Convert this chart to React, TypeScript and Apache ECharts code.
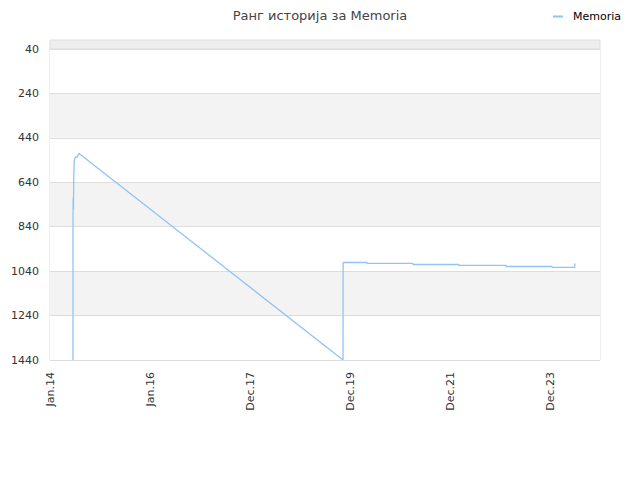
import React, { useEffect, useRef } from "react";
import * as echarts from "echarts";

const title = "Ранг историја за Memoria";
const seriesName = "Memoria";
const startDate = "2014-01-01";
const dates = [
  "2014-06-18", "2014-06-18", "2014-06-19", "2014-06-19", "2014-06-20", "2014-06-21",
  "2014-06-24", "2014-06-27", "2014-07-06", "2014-07-17", "2014-08-01",
  "2019-11-10", "2019-11-11", "2020-05-03", "2020-05-04", "2021-04-03", "2021-04-04",
  "2022-03-05", "2022-03-06", "2023-02-12", "2023-02-13", "2024-01-13", "2024-01-14",
  "2024-06-28", "2024-06-29",
];
const ranks = [
  1440, 792, 742, 724, 706, 760,
  607, 540, 526, 528, 510,
  1440, 1001, 1001, 1005, 1005, 1010,
  1010, 1014, 1014, 1019, 1019, 1023,
  1023, 1006,
];
const yTicks = [40, 240, 440, 640, 840, 1040, 1240, 1440];
const monthNames = ["Jan", "Feb", "Mar", "Apr", "May", "Jun", "Jul", "Aug", "Sep", "Oct", "Nov", "Dec"];

const DAY = 86400000;
const t0 = Date.parse(startDate + "T00:00:00Z");
const toDays = (s: string) => Math.round((Date.parse(s + "T00:00:00Z") - t0) / DAY);

export default function App() {
  const ref = useRef<HTMLDivElement>(null);
  useEffect(() => {
    if (!ref.current) return;
    const chart = echarts.init(ref.current, undefined, { renderer: "svg" });
    const data = dates.map((d, i) => [toDays(d), ranks[i]]);
    chart.setOption({
      animation: false,
      backgroundColor: "#fff",
      title: {
        text: title,
        left: "center",
        top: 4,
        textStyle: { fontFamily: "DejaVu Sans", fontSize: 13, fontWeight: "normal", color: "#444" },
      },
      legend: {
        right: 14,
        top: 6,
        icon: "rect",
        itemWidth: 10,
        itemHeight: 2,
        itemGap: 10,
        textStyle: { fontFamily: "DejaVu Sans", fontSize: 11, color: "#000", padding: [0, 0, 0, 5] },
        data: [seriesName],
      },
      grid: {
        left: 50,
        right: 40,
        top: 49,
        bottom: 120,
        show: true,
        borderColor: "#ddd",
        borderWidth: 1,
        backgroundColor: "transparent",
        containLabel: false,
      },
      graphic: [
        {
          type: "rect",
          shape: { x: 50, y: 40, width: 550, height: 9 },
          style: { fill: "#eeeeee", stroke: "#ddd", lineWidth: 1 },
          silent: true,
        },
      ],
      xAxis: {
        type: "value",
        min: 0,
        max: 4015,
        interval: 730,
        axisLine: { show: false },
        axisTick: { show: false },
        splitLine: { show: false },
        axisLabel: {
          rotate: 90,
          margin: 12,
          showMaxLabel: false,
          fontFamily: "DejaVu Sans",
          fontSize: 11,
          color: "#333",
          formatter: (v: number) => {
            const d = new Date(t0 + v * DAY);
            return monthNames[d.getUTCMonth()] + "." + String(d.getUTCFullYear()).slice(2);
          },
        },
      },
      yAxis: {
        type: "value",
        inverse: true,
        min: yTicks[0],
        max: yTicks[yTicks.length - 1],
        interval: yTicks[1] - yTicks[0],
        axisLine: { show: false },
        axisTick: { show: false },
        axisLabel: {
          margin: 11,
          fontFamily: "DejaVu Sans",
          fontSize: 11,
          color: "#333",
          formatter: (v: number) => String(v),
        },
        splitLine: { show: true, lineStyle: { color: "#ddd", width: 1 } },
        splitArea: { show: true, areaStyle: { color: ["#ffffff", "#f3f3f3"] } },
      },
      series: [
        {
          name: seriesName,
          type: "line",
          data,
          showSymbol: false,
          symbol: "none",
          lineStyle: { color: "#90c4f5", width: 1.3 },
          itemStyle: { color: "#90c4f5" },
        },
      ],
    });
    return () => chart.dispose();
  }, []);
  return <div ref={ref} style={{ position: "absolute", left: 0, top: 0, width: 640, height: 480 }} />;
}
